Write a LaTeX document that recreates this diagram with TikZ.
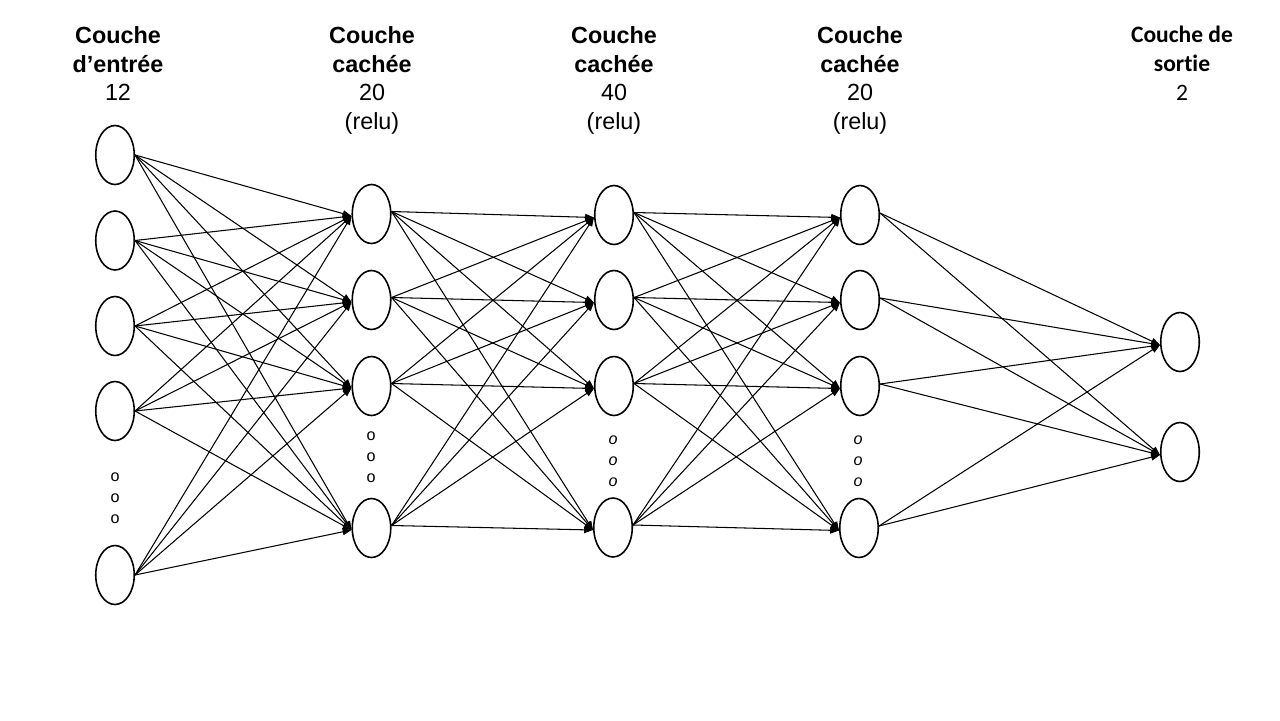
\documentclass[tikz,border=0pt]{standalone}
\usepackage{fontspec}
\setmainfont{Liberation Sans}
\newfontfamily\calfont[Ligatures={NoCommon,NoRare}]{Carlito}
\usetikzlibrary{shapes.geometric,arrows.meta}
\begin{document}
\begin{tikzpicture}[x=0.02cm,y=-0.02cm,
  neuron/.style={draw, ellipse, line width=0.9pt, minimum width=0.77cm, minimum height=1.18cm, inner sep=0pt},
  conn/.style={line width=0.6pt, -{Triangle[length=5pt,width=3.8pt]}},
  head/.style={align=center, anchor=base, inner sep=0pt, font=\fontsize{13.3pt}{16.2pt}\selectfont},
  headc/.style={align=center, anchor=base, inner sep=0pt, font=\calfont\fontsize{13.4pt}{16.5pt}\selectfont},
  dotstack/.style={align=center, anchor=base, inner sep=0pt, font=\fontsize{9.2pt}{11.7pt}\selectfont}]
\useasboundingbox (0,0) rectangle (1280,720);

% headers (anchor = baseline of last line)
\node[head] (h1) at (118,100.5) {\textbf{Couche}\\\textbf{d’entrée}\\12};
\node[head] (h2) at (372,129) {\textbf{Couche}\\\textbf{cachée}\\20\\(relu)};
\node[head] (h3) at (614,129) {\textbf{Couche}\\\textbf{cachée}\\40\\(relu)};
\node[head] (h4) at (860,129) {\textbf{Couche}\\\textbf{cachée}\\20\\(relu)};
\node[headc] (h5) at (1182,100) {\textbf{Couche de}\\\textbf{sortie}\\2};

% input layer
\node[neuron] (a1) at (115,155) {};
\node[neuron] (a2) at (115,240.5) {};
\node[neuron] (a3) at (115,326) {};
\node[neuron] (a4) at (115,411) {};
\node[neuron] (a5) at (115,575) {};
% hidden 1
\node[neuron] (b1) at (371.5,214) {};
\node[neuron] (b2) at (371.5,300) {};
\node[neuron] (b3) at (371.5,386) {};
\node[neuron] (b4) at (371.5,528) {};
% hidden 2
\node[neuron] (c1) at (614,215) {};
\node[neuron] (c2) at (614,300) {};
\node[neuron] (c3) at (614,386) {};
\node[neuron] (c4) at (613,527.5) {};
% hidden 3
\node[neuron] (d1) at (860,215) {};
\node[neuron] (d2) at (860,300) {};
\node[neuron] (d3) at (860,386) {};
\node[neuron] (d4) at (859,528) {};
% output
\node[neuron] (e1) at (1180,342) {};
\node[neuron] (e2) at (1180,452) {};

% dots (anchor = baseline of last line)
\node[dotstack] (ds1) at (115,523) {o\\o\\o};
\node[dotstack] (ds2) at (371,482) {o\\o\\o};
\node[dotstack] (ds3) at (613,486) {\itshape o\\\itshape o\\\itshape o};
\node[dotstack] (ds4) at (858,486) {\itshape o\\\itshape o\\\itshape o};

% connections
\foreach \i in {1,...,5}
  \foreach \j in {1,...,4}
    \draw[conn] (a\i.east) -- ([yshift=-0.04cm]b\j.west);
\foreach \i in {1,...,4}
  \foreach \j in {1,...,4}
    \draw[conn] ([yshift=0.05cm]b\i.east) -- ([yshift=-0.05cm]c\j.west);
\foreach \i in {1,...,4}
  \foreach \j in {1,...,4}
    \draw[conn] ([yshift=0.05cm]c\i.east) -- ([yshift=-0.05cm]d\j.west);
\foreach \i in {1,...,4}
  \foreach \j in {1,2}
    \draw[conn] ([yshift=0.04cm]d\i.east) -- ([yshift=-0.06cm]e\j.west);
\end{tikzpicture}
\end{document}
